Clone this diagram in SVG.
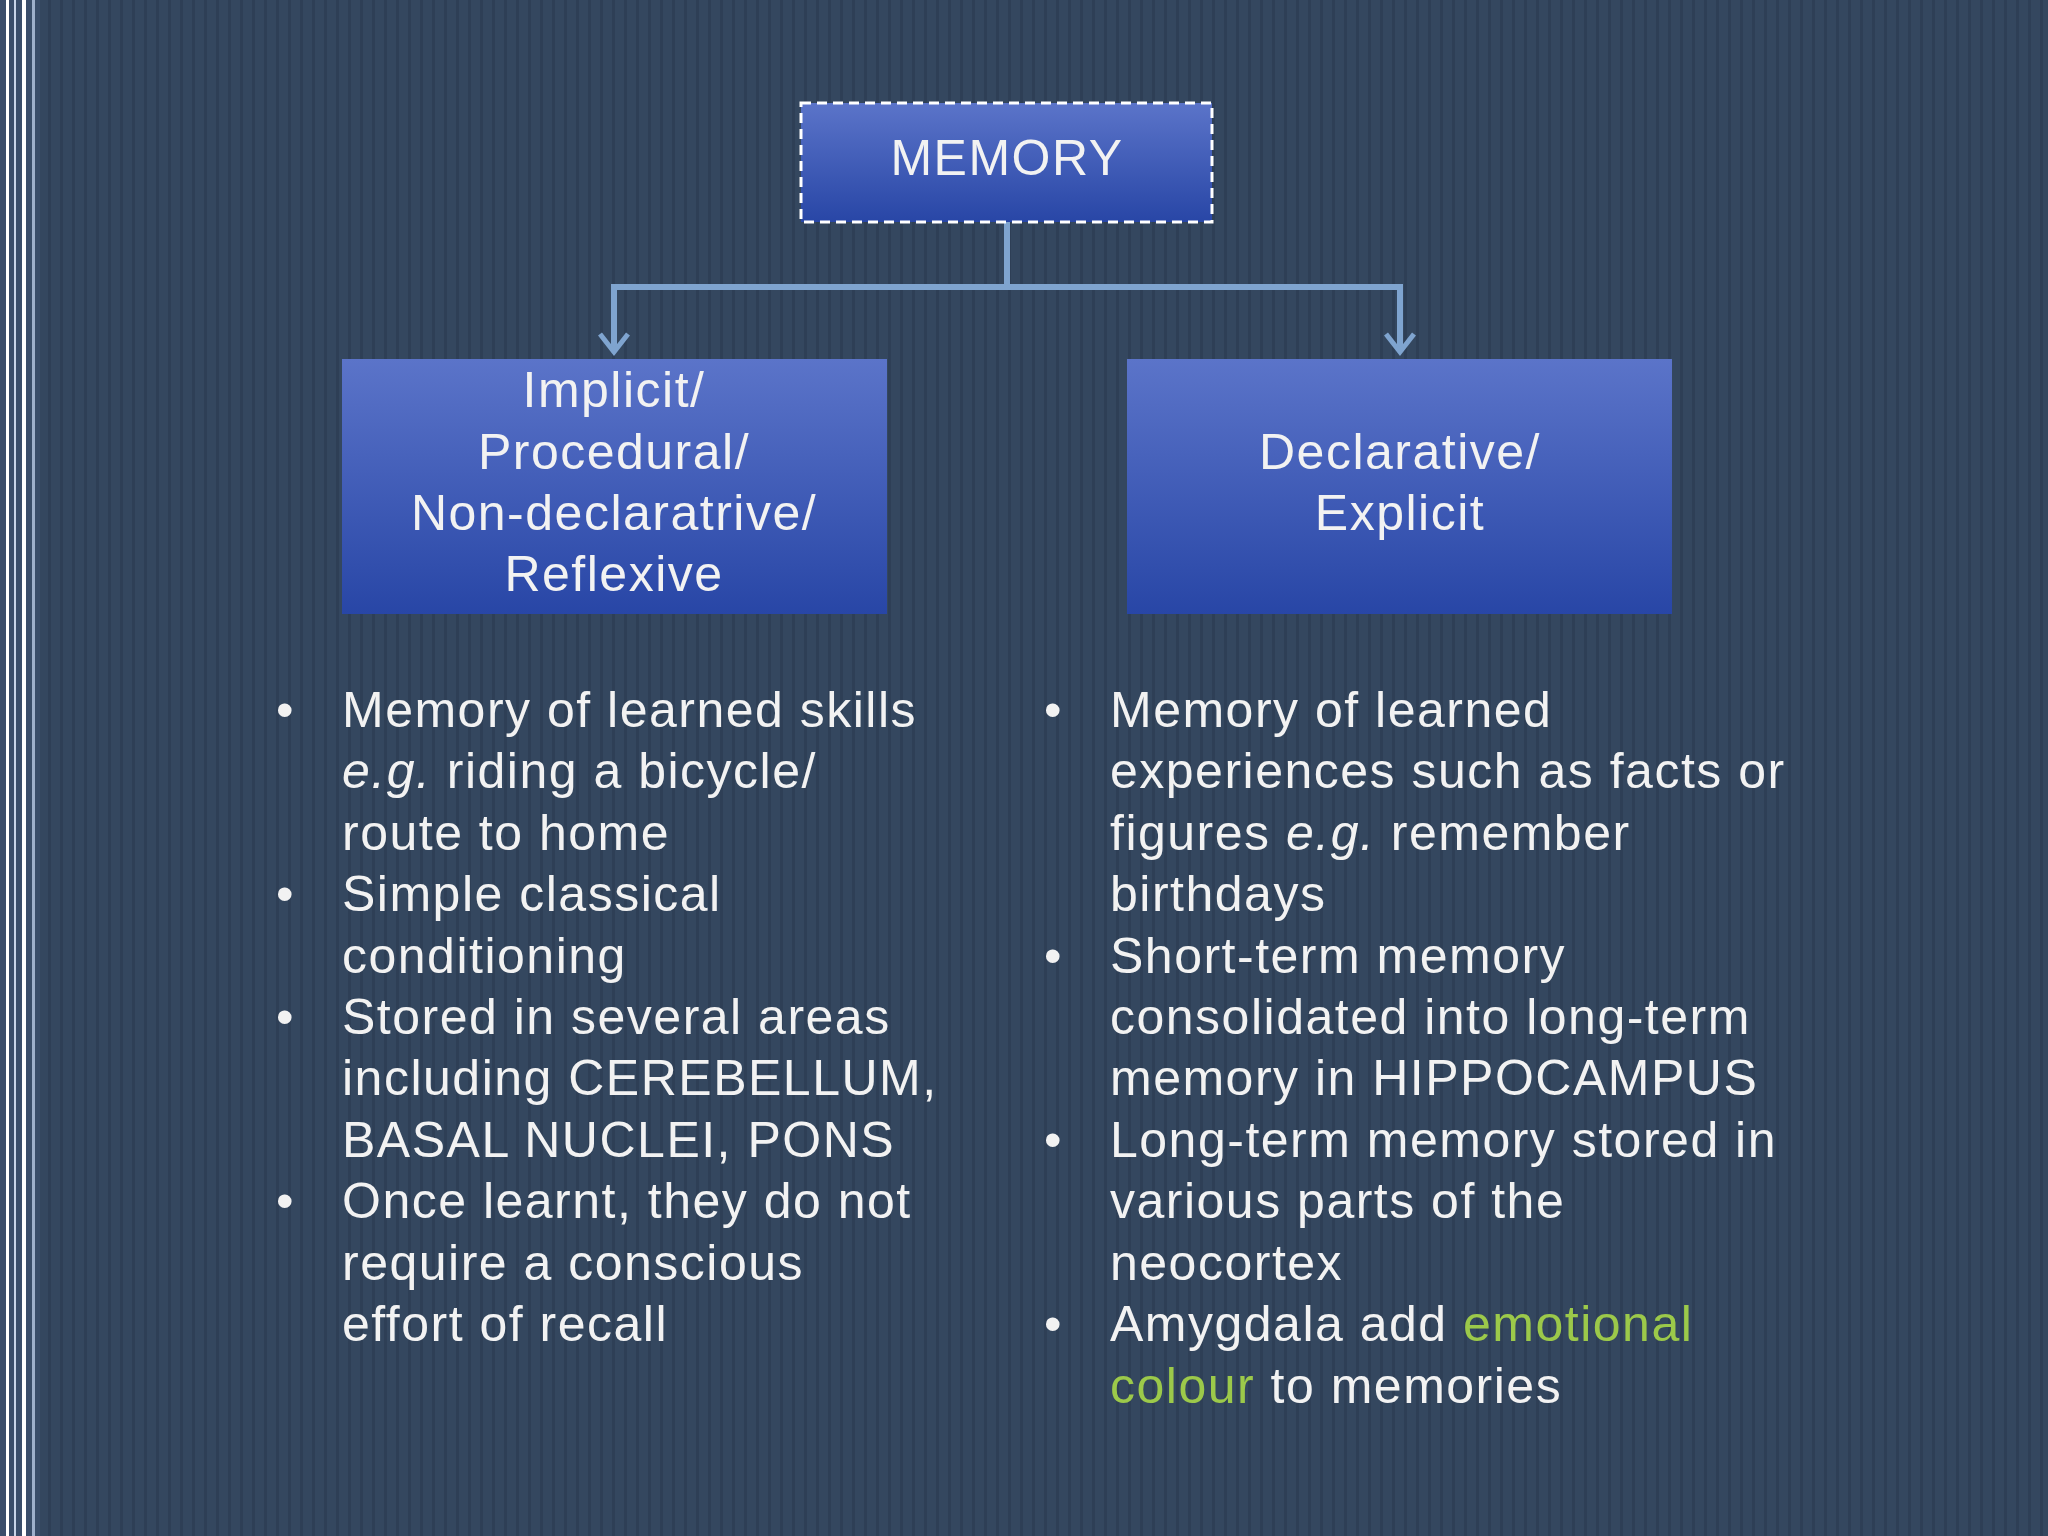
<svg xmlns="http://www.w3.org/2000/svg" width="2048" height="1536" viewBox="0 0 2048 1536">
<defs>
<pattern id="st" width="12" height="1536" patternUnits="userSpaceOnUse">
<rect width="12" height="1536" fill="#34475f"/>
<rect x="0" width="3" height="1536" fill="#2e3f56"/>
</pattern>
<linearGradient id="bg" x1="0" y1="0" x2="0" y2="1">
<stop offset="0" stop-color="#5b74c9"/><stop offset="1" stop-color="#2846a6"/>
</linearGradient>
<marker id="ar" markerWidth="30" markerHeight="30" refX="22" refY="15" orient="auto" markerUnits="userSpaceOnUse" viewBox="0 0 30 30" overflow="visible">
<path d="M4 1 L22 15 L4 29" fill="none" stroke="#7fa4cf" stroke-width="5"/>
</marker>
<style>
text{font-family:"Liberation Sans","DejaVu Sans",sans-serif;fill:#f2f2f2}
.b{font-size:50px;letter-spacing:1.5px}
.h{font-size:50px;text-anchor:middle;letter-spacing:1.5px}
.g{fill:#9cc94a}
</style>
</defs>
<rect width="2048" height="1536" fill="url(#st)"/>
<rect x="0" width="40" height="1536" fill="#3a4d6a"/>
<rect x="6" width="3" height="1536" fill="#ffffff"/>
<rect x="14" width="2" height="1536" fill="#c8d4e8"/>
<rect x="22" width="4" height="1536" fill="#ffffff"/>
<rect x="32" width="3" height="1536" fill="#9fb0cc"/>
<g id="connectors" fill="none" stroke="#7fa4cf" stroke-width="6">
<path d="M1007 222 V287"/>
<path d="M1007 287 H614 V352" marker-end="url(#ar)"/>
<path d="M1007 287 H1400 V352" marker-end="url(#ar)"/>
</g>
<g id="memory">
<rect x="801" y="103" width="411" height="119" fill="url(#bg)" stroke="#ffffff" stroke-width="3" stroke-dasharray="10 6"/>
<text class="h" x="1007" y="175">MEMORY</text>
</g>
<g id="implicit">
<rect x="342" y="359" width="545" height="255" fill="url(#bg)"/>
<text class="h" x="614" y="407">Implicit/</text>
<text class="h" x="614" y="469">Procedural/</text>
<text class="h" x="614" y="530">Non-declaratrive/</text>
<text class="h" x="614" y="591">Reflexive</text>
</g>
<g id="declarative">
<rect x="1127" y="359" width="545" height="255" fill="url(#bg)"/>
<text class="h" x="1400" y="469">Declarative/</text>
<text class="h" x="1400" y="530">Explicit</text>
</g>
<g id="left-list">
<text class="b" x="276" y="727">•</text>
<text class="b" x="342" y="727">Memory of learned skills</text>
<text class="b" x="342" y="788"><tspan font-style="italic">e.g.</tspan> riding a bicycle/</text>
<text class="b" x="342" y="850">route to home</text>
<text class="b" x="276" y="911">•</text>
<text class="b" x="342" y="911">Simple classical</text>
<text class="b" x="342" y="973">conditioning</text>
<text class="b" x="276" y="1034">•</text>
<text class="b" x="342" y="1034">Stored in several areas</text>
<text class="b" x="342" y="1095">including CEREBELLUM,</text>
<text class="b" x="342" y="1157">BASAL NUCLEI, PONS</text>
<text class="b" x="276" y="1218">•</text>
<text class="b" x="342" y="1218">Once learnt, they do not</text>
<text class="b" x="342" y="1280">require a conscious</text>
<text class="b" x="342" y="1341">effort of recall</text>
</g>
<g id="right-list">
<text class="b" x="1044" y="727">•</text>
<text class="b" x="1110" y="727">Memory of learned</text>
<text class="b" x="1110" y="788">experiences such as facts or</text>
<text class="b" x="1110" y="850">figures <tspan font-style="italic">e.g.</tspan> remember</text>
<text class="b" x="1110" y="911">birthdays</text>
<text class="b" x="1044" y="973">•</text>
<text class="b" x="1110" y="973">Short-term memory</text>
<text class="b" x="1110" y="1034">consolidated into long-term</text>
<text class="b" x="1110" y="1095">memory in HIPPOCAMPUS</text>
<text class="b" x="1044" y="1157">•</text>
<text class="b" x="1110" y="1157">Long-term memory stored in</text>
<text class="b" x="1110" y="1218">various parts of the</text>
<text class="b" x="1110" y="1280">neocortex</text>
<text class="b" x="1044" y="1341">•</text>
<text class="b" x="1110" y="1341">Amygdala add <tspan class="g">emotional</tspan></text>
<text class="b" x="1110" y="1403"><tspan class="g">colour</tspan> to memories</text>
</g>
</svg>
